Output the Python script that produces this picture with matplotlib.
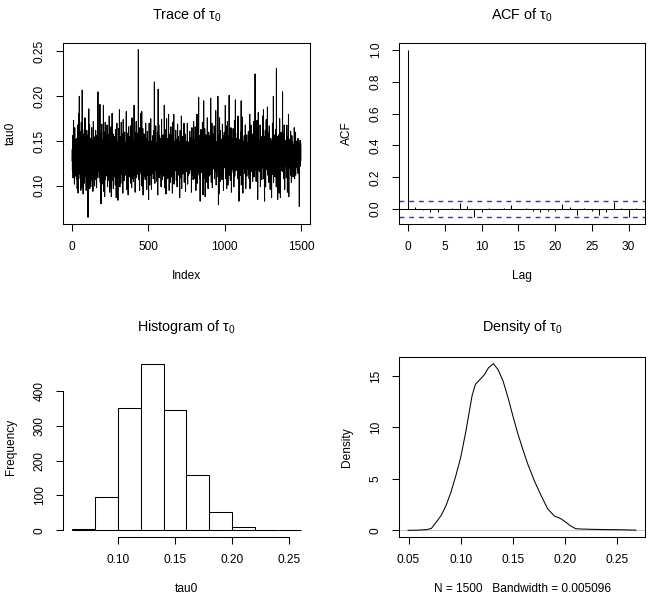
import numpy as np
import matplotlib
matplotlib.use("Agg")
import matplotlib.pyplot as plt
from matplotlib.ticker import FixedLocator

# ---- data ----
# MCMC trace of tau0, one row per 25 iterations (values in 1/1000)
trace_rows = [
    "128 141 117 156 132 121 109 138 149 173 113 158 133 119 146 102 137 165 124 131 111 152 118 143 127",
    "135 122 146 108 139 153 119 131 097 127 144 168 115 136 092 150 124 181 129 113 141 122 200 134 118",
    "114 139 161 108 127 150 122 095 144 133 171 116 129 098 155 124 207 137 110 163 127 146 091 132 118",
    "142 125 117 158 131 103 147 136 122 176 128 111 140 154 119 133 126 095 149 138 115 162 124 145 130",
    "136 121 149 104 065 130 157 113 142 186 119 101 135 125 168 097 144 122 131 110 153 128 099 140 117",
    "127 143 112 165 134 120 151 106 138 129 147 094 133 118 172 125 141 109 155 131 122 139 100 148 126",
    "132 148 107 125 162 119 138 112 145 127 098 156 121 134 115 150 129 141 109 205 123 137 116 144 120",
    "139 117 153 128 110 146 133 191 122 104 141 130 158 115 080 136 124 147 119 169 128 102 143 135 121",
    "126 152 103 139 118 190 131 094 147 122 113 160 135 088 128 143 119 171 107 133 125 149 111 138 156",
    "130 115 144 127 168 121 136 099 150 124 139 112 157 131 118 145 106 134 178 126 141 093 129 152 117",
    "121 098 144 130 115 166 127 088 139 152 118 125 181 106 135 142 112 129 158 120 097 146 131 117 137",
    "143 126 110 155 133 119 148 137 101 163 128 141 114 132 087 150 123 139 170 116 135 127 146 108 131",
    "084 133 150 119 128 164 108 141 123 137 185 114 130 099 147 126 118 155 134 103 139 127 171 116 142",
    "125 140 113 158 131 120 146 092 136 128 174 111 143 133 117 152 106 138 125 160 129 147 114 135 122",
    "129 112 148 136 120 183 131 096 144 125 117 159 138 109 132 150 122 090 141 128 166 119 135 113 146",
    "137 124 155 110 142 130 117 167 128 139 103 151 121 145 133 098 126 176 136 115 148 124 140 131 108",
    "124 139 105 151 128 117 190 133 143 112 127 160 136 093 146 121 130 115 148 138 172 120 109 141 132",
    "118 145 127 136 113 159 130 141 122 252 107 149 134 126 165 119 138 095 143 128 154 116 137 124 181",
    "134 126 155 113 142 119 183 128 100 147 131 137 116 164 124 090 139 152 121 133 110 158 127 145 118",
    "129 150 121 138 107 146 132 170 124 141 115 136 153 127 096 143 131 119 161 135 122 148 112 139 126",
    "137 085 149 123 130 170 115 143 126 101 154 132 119 140 128 175 112 146 124 131 096 138 150 120 133",
    "127 141 114 156 133 122 145 108 137 129 162 118 135 147 216 124 139 103 152 130 117 143 126 167 121",
    "127 142 117 136 123 148 105 133 121 160 129 090 144 137 208 114 152 125 168 131 109 140 118 156 128",
    "135 119 147 128 113 153 132 140 099 138 125 174 116 144 131 122 150 107 136 129 157 120 142 134 111",
    "135 120 148 112 190 127 139 098 145 123 131 163 116 142 129 091 150 136 119 175 124 133 108 147 126",
    "131 144 118 153 127 109 138 180 122 134 146 095 129 141 117 158 125 136 104 149 130 121 166 138 115",
    "141 124 133 110 156 128 145 092 137 119 171 132 126 147 113 139 180 123 102 150 134 127 143 118 136",
    "128 146 121 135 162 117 140 131 106 152 125 138 144 099 133 127 169 119 141 130 112 155 136 122 147",
    "123 138 149 115 130 087 144 127 162 120 135 141 109 152 126 118 178 133 097 146 124 139 131 113 155",
    "132 119 143 128 151 114 137 125 170 131 104 146 122 139 133 158 117 128 094 142 136 121 150 127 140",
    "128 145 116 137 124 170 132 102 148 119 141 135 112 148 126 143 138 121 150 130 114 161 127 140 133",
    "121 139 154 118 133 127 146 093 138 125 165 112 142 131 119 151 128 136 107 147 123 172 134 116 143",
    "133 119 152 125 141 108 138 166 122 147 131 095 143 128 117 156 134 120 180 129 103 145 136 124 139",
    "126 141 118 150 199 129 137 112 145 132 124 156 109 138 083 147 121 135 128 163 115 142 130 153 122",
    "126 148 132 115 171 137 121 143 090 155 130 118 195 134 125 147 109 139 128 164 116 142 088 151 133",
    "140 122 157 131 114 146 127 138 104 152 125 176 133 119 144 130 097 149 136 123 160 128 141 111 137",
    "141 127 156 135 149 122 138 113 198 131 145 126 104 152 137 119 170 133 147 098 140 128 158 124 132",
    "127 150 119 143 134 122 167 130 108 146 138 125 155 116 141 132 184 121 136 101 148 129 143 117 138",
    "136 150 118 143 129 200 134 110 157 079 146 139 091 153 131 122 176 138 117 148 132 105 162 127 144",
    "125 141 133 116 152 128 138 107 147 130 169 122 143 135 118 156 126 095 139 148 131 120 160 134 127",
    "130 146 121 138 190 126 152 108 141 133 119 167 135 097 149 128 142 115 172 137 124 101 145 131 156",
    "142 119 149 127 201 134 112 145 130 158 124 138 106 151 136 123 165 129 144 093 137 126 153 118 140",
    "128 147 122 139 131 164 115 143 127 150 099 136 145 120 173 132 111 148 138 125 196 129 142 117 134",
    "137 121 153 130 118 146 135 126 159 108 141 133 178 122 147 128 115 140 131 083 152 124 139 145 129",
    "139 124 148 112 133 160 127 144 195 101 137 153 120 140 129 177 116 135 143 092 130 150 122 138 126",
    "131 143 120 156 128 138 114 147 133 122 168 126 141 097 150 135 119 144 129 157 111 137 125 148 132",
    "134 147 119 138 125 161 113 142 130 156 108 136 124 145 180 128 097 139 150 121 133 117 168 131 143",
    "127 140 116 152 133 122 147 129 105 158 136 120 143 131 172 125 139 110 149 134 123 162 128 141 225",
    "126 144 131 118 159 137 105 148 128 141 120 173 134 113 152 139 085 130 146 123 182 136 117 142 129",
    "138 122 151 133 116 145 127 168 140 099 135 147 124 139 155 118 131 143 107 150 126 137 121 178 132",
    "129 151 120 137 185 126 143 108 134 155 123 083 140 131 147 117 162 135 099 144 128 139 174 122 136",
    "133 118 147 126 139 188 121 144 112 136 159 128 141 104 150 131 125 167 138 115 146 123 140 096 135",
    "141 125 153 116 138 129 145 087 135 150 122 139 113 170 132 143 118 127 136 200 104 148 124 140 131",
    "128 144 121 157 134 110 149 126 138 163 117 142 131 099 231 125 147 136 120 155 129 141 085 137 126",
    "133 146 119 157 128 140 092 137 151 124 175 131 113 144 128 087 139 152 121 134 160 126 142 117 136",
    "124 138 149 131 205 116 143 127 136 158 121 145 108 139 130 168 125 142 096 134 151 122 137 129 146",
    "138 122 150 131 109 145 126 168 134 118 141 093 136 155 127 143 114 132 180 125 088 147 130 139 121",
    "130 143 124 152 119 137 128 161 112 140 133 147 104 136 125 156 121 139 131 117 149 128 142 110 135",
    "135 128 146 117 139 124 165 131 108 142 126 151 119 137 160 112 133 145 122 138 129 150 121 141 127",
    "132 145 118 139 126 153 114 136 129 147 121 140 133 116 077 138 124 146 130 151 122 137 143 128 147",
]
n_samples = 1500

# autocorrelation by lag
acf_lags = list(range(32))
acf_vals = [1.0, 0.017, -0.006, -0.020, -0.020, 0.002, 0.010, 0.036, 0.018, -0.049,
            -0.015, 0.006, 0.002, 0.010, 0.027, 0.002, 0.010, -0.012, -0.015, -0.012,
            -0.014, 0.033, 0.015, -0.038, 0.010, -0.010, -0.036, -0.015, 0.048, 0.010,
            -0.050, 0.010]

# histogram
hist_edges = [0.06, 0.08, 0.10, 0.12, 0.14, 0.16, 0.18, 0.20, 0.22, 0.24, 0.26]
hist_counts = [4, 95, 352, 478, 345, 160, 53, 10, 2, 1]

# kernel density estimate
dens_x = [0.0496, 0.060, 0.068, 0.072, 0.0766, 0.0813, 0.0859, 0.0906, 0.0953, 0.100,
          0.1047, 0.1078, 0.1109, 0.1141, 0.1188, 0.1225, 0.1266, 0.1313, 0.1359, 0.1406,
          0.1453, 0.150, 0.1547, 0.1594, 0.1642, 0.1706, 0.1769, 0.1832, 0.1896, 0.1959,
          0.2006, 0.2054, 0.2101, 0.2149, 0.226, 0.2386, 0.2513, 0.2678]
dens_y = [0.0, 0.02, 0.08, 0.2, 0.8, 1.45, 2.4, 3.7, 5.3, 7.1,
          9.5, 11.3, 13.1, 14.2, 14.7, 15.1, 15.8, 16.2, 15.6, 14.5,
          12.9, 11.1, 9.4, 7.9, 6.45, 4.8, 3.4, 2.1, 1.4, 1.13,
          0.8, 0.42, 0.16, 0.13, 0.1, 0.07, 0.06, 0.02]
bandwidth = "0.005096"

# ---- style: R base graphics look ----
plt.rcParams['font.family'] = ['Liberation Sans', 'DejaVu Sans']
plt.rcParams['mathtext.fontset'] = 'custom'
plt.rcParams['mathtext.rm'] = 'Liberation Sans'
plt.rcParams['mathtext.default'] = 'regular'
plt.rcParams['font.size'] = 8.6
plt.rcParams['axes.linewidth'] = 0.75
plt.rcParams['xtick.major.width'] = 0.75
plt.rcParams['ytick.major.width'] = 0.75
plt.rcParams['xtick.major.size'] = 5
plt.rcParams['ytick.major.size'] = 5
plt.rcParams['xtick.major.pad'] = 7.5
plt.rcParams['ytick.major.pad'] = 7.5

TITLE_FS = 10.4
LW = 0.75


def r_limits(vals):
    lo, hi = min(vals), max(vals)
    pad = 0.04 * (hi - lo)
    return lo - pad, hi + pad


def style_axes(ax, xlabel, ylabel, title, title_pad):
    ax.set_title(title, fontsize=TITLE_FS, pad=title_pad)
    ax.set_xlabel(xlabel, labelpad=12)
    ax.set_ylabel(ylabel, labelpad=12)
    plt.setp(ax.get_yticklabels(), rotation=90, va='center')


fig = plt.figure(figsize=(6.59, 5.94), dpi=100)

W, H = 659.0, 594.0
ax_trace = fig.add_axes([63 / W, 1 - 224 / H, 247 / W, 181 / H])
ax_acf = fig.add_axes([399 / W, 1 - 224 / H, 246 / W, 181 / H])
ax_hist = fig.add_axes([63 / W, 1 - 537 / H, 247 / W, 180 / H])
ax_dens = fig.add_axes([399 / W, 1 - 537 / H, 246 / W, 180 / H])

# trace
tau0 = np.array([int(v) for row in trace_rows for v in row.split()]) / 1000.0
index = np.arange(1, len(tau0) + 1)
ax_trace.plot(index, tau0, color='black', lw=LW)
ax_trace.set_xlim(*r_limits([1, n_samples]))
ax_trace.set_ylim(*r_limits(tau0))
ax_trace.xaxis.set_major_locator(FixedLocator([0, 500, 1000, 1500]))
ax_trace.yaxis.set_major_locator(FixedLocator([0.10, 0.15, 0.20, 0.25]))
ax_trace.set_yticklabels(['0.10', '0.15', '0.20', '0.25'])
style_axes(ax_trace, 'Index', 'tau0', 'Trace of τ$_0$', 16.5)

# acf
ci = 1.96 / np.sqrt(n_samples)
ax_acf.vlines(acf_lags, 0, acf_vals, color='black', lw=LW)
ax_acf.axhline(0, color='black', lw=LW)
for c in (ci, -ci):
    ax_acf.axhline(c, color='#2A2AF0', lw=1.0, linestyle=(0, (3.5, 3.5)))
ax_acf.set_xlim(*r_limits(acf_lags))
ax_acf.set_ylim(*r_limits(acf_vals + [ci, -ci]))
ax_acf.xaxis.set_major_locator(FixedLocator([0, 5, 10, 15, 20, 25, 30]))
ax_acf.yaxis.set_major_locator(FixedLocator([0.0, 0.2, 0.4, 0.6, 0.8, 1.0]))
ax_acf.set_yticklabels(['0.0', '0.2', '0.4', '0.6', '0.8', '1.0'])
style_axes(ax_acf, 'Lag', 'ACF', 'ACF of τ$_0$', 16.5)

# histogram
edges = np.array(hist_edges)
ax_hist.bar(edges[:-1], hist_counts, width=np.diff(edges), align='edge',
            facecolor='white', edgecolor='black', lw=LW)
ax_hist.set_xlim(*r_limits(hist_edges))
ax_hist.set_ylim(*r_limits([0] + hist_counts))
ax_hist.xaxis.set_major_locator(FixedLocator([0.10, 0.15, 0.20, 0.25]))
ax_hist.set_xticklabels(['0.10', '0.15', '0.20', '0.25'])
ax_hist.yaxis.set_major_locator(FixedLocator([0, 100, 200, 300, 400]))
for s in ('top', 'right'):
    ax_hist.spines[s].set_visible(False)
ax_hist.spines['left'].set_bounds(0, 400)
ax_hist.spines['bottom'].set_bounds(0.10, 0.25)
style_axes(ax_hist, 'tau0', 'Frequency', 'Histogram of τ$_0$', 18.7)

# density
ax_dens.axhline(0, color='#BEBEBE', lw=0.6)
ax_dens.plot(dens_x, dens_y, color='black', lw=LW)
ax_dens.set_xlim(*r_limits(dens_x))
ax_dens.set_ylim(*r_limits(dens_y))
ax_dens.xaxis.set_major_locator(FixedLocator([0.05, 0.10, 0.15, 0.20, 0.25]))
ax_dens.set_xticklabels(['0.05', '0.10', '0.15', '0.20', '0.25'])
ax_dens.yaxis.set_major_locator(FixedLocator([0, 5, 10, 15]))
style_axes(ax_dens, 'N = %d   Bandwidth = %s' % (n_samples, bandwidth), 'Density',
           'Density of τ$_0$', 18.7)

fig.savefig('out.png', dpi=100)
